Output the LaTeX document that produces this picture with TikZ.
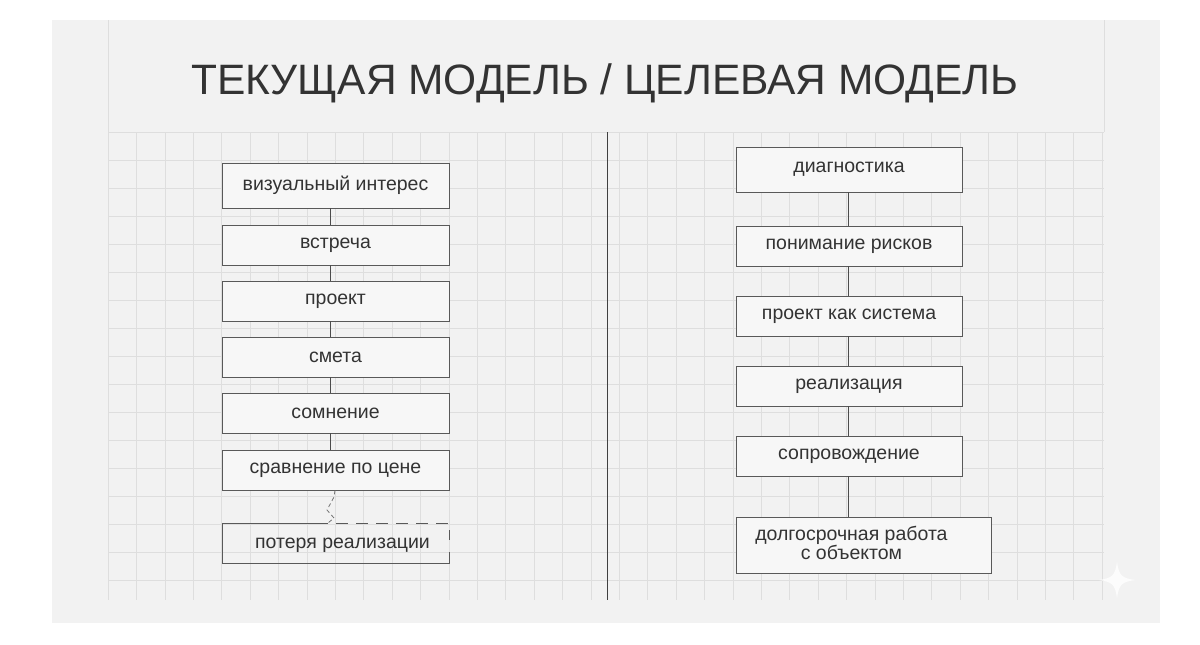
\documentclass[tikz,border=0pt]{standalone}
\usepackage{fontspec}
\setmainfont{Liberation Sans}
\begin{document}
\begin{tikzpicture}[x=1pt,y=-1pt,
  box/.style={draw=black!65,line width=0.9pt,fill=gray!6,inner sep=0pt,font=\fontsize{19.5}{22}\selectfont\color{black!80},align=center},
  conn/.style={draw=black!70,line width=0.8pt},
  gridl/.style={draw=black!13,line width=0.6pt}]
\useasboundingbox (0,0) rectangle (1200,645);
\fill[white] (0,0) rectangle (1200,645);
\fill[gray!10!white] (52,20) rectangle (1160,623);
% grid
\foreach \i in {0,...,35} {\draw[gridl] ({108+28.4*\i},132) -- ({108+28.4*\i},600);}
\draw[gridl] (108,20) -- (108,132);
\draw[gridl] (1104,20) -- (1104,132);
\foreach \j in {0,...,16} {\draw[gridl] (108,{132+28*\j}) -- (1104,{132+28*\j});}
\draw[black!75,line width=0.9pt] (607,132) -- (607,600);
\node[font=\fontsize{42.5}{46}\selectfont,text=black!80] (title) at (605,83) {ТЕКУЩАЯ МОДЕЛЬ / ЦЕЛЕВАЯ МОДЕЛЬ};
% left
\foreach \n/\t/\ya/\yb in {l1/визуальный интерес/163/208,l2/встреча/225/265,l3/проект/281/321,l4/смета/337/377,l5/сомнение/393/433,l6/сравнение по цене/450/490}{
  \node[box,minimum width=227pt,minimum height={\yb-\ya}] (\n) at (335.5,{(\ya+\yb)/2}) {\raisebox{-3pt}{\t}};}
\node[box,draw=none,fill=none,minimum width=227pt,minimum height=40pt] (l7) at (335.5,545) {\hspace*{14pt}\raisebox{-2pt}{потеря реализации}};
\draw[black!65,line width=0.9pt] (328,523) -- (222,523) -- (222,563) -- (449,563) -- (449,552);
\draw[black!65,line width=0.9pt,dash pattern=on 12pt off 8pt] (336,523) -- (449,523) -- (449,540);
\foreach \a/\b in {l1/l2,l2/l3,l3/l4,l4/l5,l5/l6}{\draw[conn] (\a.south -| 330,0) -- (\b.north -| 330,0);}
\coordinate (z1) at (334,497);
\draw[black!55,line width=0.8pt,dash pattern=on 4pt off 3pt] (l6.south -| 335,0) -- (z1) -- (327,510) -- (334,518) -- (328,523);
% right
\foreach \n/\t/\ya/\yb in {r1/диагностика/147/192,r2/понимание рисков/226/266,r3/проект как система/296/336,r4/реализация/366/406,r5/сопровождение/436/476}{
  \node[box,minimum width=226pt,minimum height={\yb-\ya}] (\n) at (849,{(\ya+\yb)/2}) {\raisebox{-3pt}{\t}};}
\node[box,minimum width=255pt,minimum height=56pt,anchor=north west] (r6) at (736,517) {\hspace*{-25pt}\raisebox{-2pt}{\begin{tabular}{@{}c@{}}долгосрочная работа\\[-3pt]с объектом\end{tabular}}};
\foreach \a/\b in {r1/r2,r2/r3,r3/r4,r4/r5}{\draw[conn] (\a.south -| 848,0) -- (\b.north -| 848,0);}
\draw[conn] (r5.south -| 848,0) -- (r6.north -| 848,0);
% star
\fill[white,opacity=0.8] (1117,562) .. controls (1119,576) and (1122,578) .. (1135,580) .. controls (1122,582) and (1119,584) .. (1117,598) .. controls (1115,584) and (1112,582) .. (1099,580) .. controls (1112,578) and (1115,576) .. (1117,562) -- cycle;
\end{tikzpicture}
\end{document}
